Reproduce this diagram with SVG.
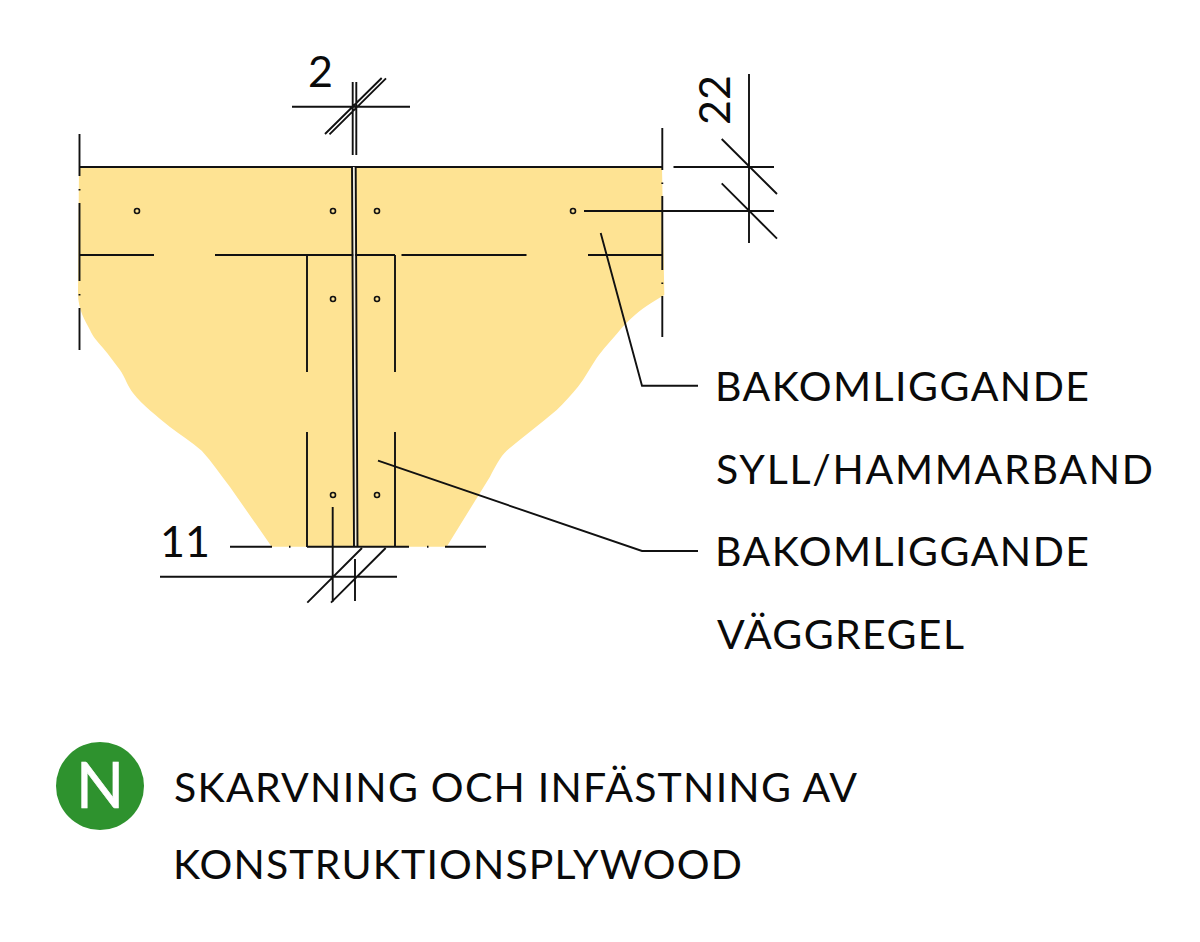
<svg xmlns="http://www.w3.org/2000/svg" width="1200" height="942" viewBox="0 0 1200 942">
<style>
.l{fill:none;stroke:#111;stroke-width:1.9}
.n{fill:none;stroke:#111;stroke-width:1.6}
.t{font-family:"Lato","Noto Sans",sans-serif;font-size:41px;fill:#0a0a0a}
.d{font-family:"Lato","Noto Sans",sans-serif;font-size:43px;fill:#0a0a0a}
</style>
<rect width="1200" height="942" fill="#fff"/>
<g id="panel">
<path fill="#fee393" d="M79 167H662L664.300 295C652 302 640 310 633 316.700C628 321 624 325 620 330C611 341 603 349 596.700 358C590 368 585 378 578 386.700C572 394 564 403 556.700 410C540 424 522 438 506.700 450.700C500 457 495 467 490 476.700L446.700 546.700H271.700L230 487C220 474 212 462 201.700 450.700C192 442 180 435 170 427C157 416 143 406 133 393C128 387 125 377 120 370C114 362 109 355 103 348C97 341 93 337 90 330C85 320 78 310 78 293Z"/>
</g>
<g id="connectors">
<path class="l" d="M79.500 134V176M79.500 203V281M79.500 308V350M662.300 128V170M662.300 196V270M662.300 296V337"/>
<path class="l" d="M79.500 167H662M79.500 255H154M215 255H395M401.500 255H526.500M588 255H662"/>
<path class="l" d="M307 255V372M395 255V372M307 432V547M395 432V547"/>
<path fill="none" stroke="#f1efe6" stroke-width="2" d="M353.800 167L355.700 547"/>
<path class="l" d="M352 167L354 547M355.700 167L357.500 547"/>
<path class="l" d="M79.500 189v1.500M79.500 294v1.500M662.300 182.500v1.500M662.300 282.500v1.500M289 546.700h1.500M427 546.700h1.500"/>
<path class="l" d="M230 546.700H272M307 546.700H409M445 546.700H486"/>
<path class="l" d="M352.700 82V155M356.300 82V155M292 106.700H410M325 134L381.700 78M329.500 134.300L386 78.300"/>
<path class="l" d="M673.500 167H774M584 211H774M749 74V243M721.700 139L777 194M721.700 183.300L777 238.700"/>
<path class="l" d="M160 576.700H397M332.700 507V602M355 559V601M307.300 602.700L362 548M331 602.700L385.700 548"/>
<path class="l" d="M600.700 233L642 385.700H698M378 460.700L642 551H698"/>
</g>
<g id="nails">
<circle class="n" cx="137" cy="211" r="2.500"/><circle class="n" cx="333" cy="211" r="2.500"/><circle class="n" cx="377" cy="211" r="2.500"/><circle class="n" cx="573" cy="211" r="2.500"/>
<circle class="n" cx="333" cy="299" r="2.500"/><circle class="n" cx="377" cy="299" r="2.500"/><circle class="n" cx="333" cy="495" r="2.500"/><circle class="n" cx="377" cy="495" r="2.500"/>
</g>
<g id="dimensions">
<text class="d" x="308" y="87">2</text>
<text class="d" transform="translate(730 125) rotate(-90)">22</text>
<text class="d" x="160" y="557">11</text>
</g>
<g id="labels">
<text class="t" x="715" y="401" textLength="374">BAKOMLIGGANDE</text>
<text class="t" x="716" y="483.500" textLength="437">SYLL/HAMMARBAND</text>
<text class="t" x="715" y="566" textLength="374">BAKOMLIGGANDE</text>
<text class="t" x="717" y="648.500" textLength="247">VÄGGREGEL</text>
</g>
<g id="badge">
<circle cx="100" cy="786" r="44" fill="#2e922e"/>
<text x="100" y="808" text-anchor="middle" font-family="Lato, Noto Sans, sans-serif" font-size="63" fill="#fff" stroke="#fff" stroke-width="0.6">N</text>
</g>
<g id="title">
<text class="t" x="174" y="802" textLength="683">SKARVNING OCH INFÄSTNING AV</text>
<text class="t" x="173" y="878.500" textLength="569">KONSTRUKTIONSPLYWOOD</text>
</g>
</svg>
